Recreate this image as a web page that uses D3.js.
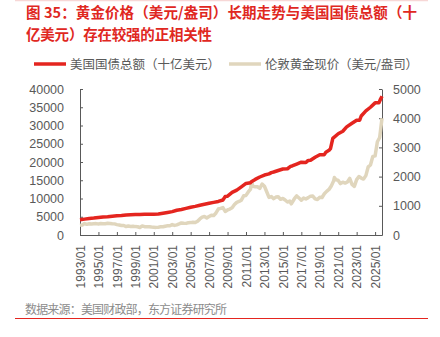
<!DOCTYPE html>
<html><head><meta charset="utf-8">
<script src="https://cdn.jsdelivr.net/npm/d3@7/dist/d3.min.js"></script>
<style>
body{margin:0;background:#fff;}
svg{display:block;font-family:"Liberation Sans","Noto Sans CJK SC",sans-serif;}
</style></head>
<body><svg id="c" width="440" height="337"></svg>
<script>
const titleLines = ["图 35：黄金价格（美元/盎司）长期走势与美国国债总额（十", "亿美元）存在较强的正相关性"];
const legendNames = ["美国国债总额（十亿美元）", "伦敦黄金现价（美元/盎司）"];
const sourceText = "数据来源：美国财政部，东方证券研究所";
const xTickLabels = ["1993/01","1995/01","1997/01","1999/01","2001/01","2003/01","2005/01","2007/01","2009/01","2011/01","2013/01","2015/01","2017/01","2019/01","2021/01","2023/01","2025/01"];
const leftTicks = [0,5000,10000,15000,20000,25000,30000,35000,40000];
const rightTicks = [0,1000,2000,3000,4000,5000];

const debtDates = ["1993/01","1993/07","1994/01","1994/07","1995/01","1995/07","1996/01","1996/07","1997/01","1997/07","1998/01","1998/07","1999/01","1999/07","2000/01","2000/07","2001/01","2001/07","2002/01","2002/07","2003/01","2003/07","2004/01","2004/07","2005/01","2005/07","2006/01","2006/07","2007/01","2007/07","2008/01","2008/07","2008/10","2009/01","2009/07","2010/01","2010/07","2011/01","2011/07","2011/08","2012/01","2012/07","2013/01","2013/07","2013/10","2014/01","2014/07","2015/01","2015/07","2015/11","2016/01","2016/07","2017/01","2017/07","2017/10","2018/01","2018/07","2019/01","2019/07","2019/09","2020/01","2020/03","2020/06","2021/01","2021/07","2021/12","2022/07","2023/01","2023/05","2023/07","2024/01","2024/07","2025/01","2025/06","2025/08","2025/10"];
const debtValues = [4170,4350,4540,4650,4800,4960,4990,5160,5300,5370,5490,5550,5610,5640,5710,5660,5700,5730,5940,6160,6400,6780,7000,7300,7610,7850,8170,8420,8680,8930,9190,9590,10530,10630,11670,12310,13200,14130,14340,14600,15230,15890,16430,16740,17080,17260,17680,18080,18150,18800,18920,19430,19940,19850,20440,20490,21300,21980,22020,22700,23200,23690,26480,27750,28430,29620,30600,31420,31460,32600,34000,35000,36200,36200,37200,38000];

const goldDates = ["1993/01","1993/04","1993/07","1993/10","1994/01","1994/04","1994/07","1994/10","1995/01","1995/04","1995/07","1995/10","1996/01","1996/04","1996/07","1996/10","1997/01","1997/04","1997/07","1997/10","1998/01","1998/04","1998/07","1998/10","1999/01","1999/04","1999/07","1999/10","2000/01","2000/04","2000/07","2000/10","2001/01","2001/04","2001/07","2001/10","2002/01","2002/04","2002/07","2002/10","2003/01","2003/04","2003/07","2003/10","2004/01","2004/04","2004/07","2004/10","2005/01","2005/04","2005/07","2005/10","2006/01","2006/04","2006/07","2006/10","2007/01","2007/04","2007/07","2007/10","2008/01","2008/04","2008/07","2008/10","2009/01","2009/04","2009/07","2009/10","2010/01","2010/04","2010/07","2010/10","2011/01","2011/04","2011/07","2011/08","2011/09","2011/10","2012/01","2012/04","2012/07","2012/10","2013/01","2013/04","2013/07","2013/10","2014/01","2014/04","2014/07","2014/10","2015/01","2015/04","2015/07","2015/10","2015/12","2016/04","2016/07","2016/10","2017/01","2017/04","2017/07","2017/10","2018/01","2018/04","2018/07","2018/10","2019/01","2019/04","2019/07","2019/10","2020/01","2020/04","2020/07","2020/08","2020/10","2021/01","2021/04","2021/07","2021/10","2022/01","2022/04","2022/07","2022/10","2023/01","2023/04","2023/07","2023/10","2024/01","2024/04","2024/07","2024/10","2025/01","2025/04","2025/07","2025/10"];
const goldValues = [329,342,392,365,387,377,385,390,379,391,387,383,400,393,383,381,355,344,324,325,289,308,293,296,287,282,256,311,285,280,282,271,266,261,268,279,282,302,314,317,357,329,347,379,414,404,398,420,424,435,425,470,550,610,633,586,632,679,665,754,889,911,939,807,858,890,934,1043,1117,1148,1193,1342,1356,1474,1572,1757,1772,1665,1656,1651,1594,1747,1670,1480,1286,1316,1244,1299,1311,1222,1251,1198,1131,1159,1068,1242,1337,1266,1192,1266,1236,1280,1331,1335,1239,1215,1291,1285,1413,1495,1560,1680,1847,1968,1900,1867,1760,1807,1777,1817,1937,1732,1665,1898,2000,1950,1916,2034,2331,2398,2690,2709,3193,3340,4000];

const RED = "#e4251f", GOLD = "#e0d6bd", TXT = "#595959";
const svg = d3.select("#c");
const parse = d3.timeParse("%Y/%m");
const CJK = "'Noto Sans CJK SC',sans-serif";

// top faint rule
svg.append("line").attr("x1",15).attr("x2",428).attr("y1",0.5).attr("y2",0.5).attr("stroke","#f7d7d6").attr("stroke-width",1.5);

// title
const titleWidths = [391, 186];
svg.selectAll("text.title").data(titleLines).join("text")
  .attr("class","title")
  .attr("x",26).attr("y",(d,i)=>18+i*21.5)
  .attr("fill","#e0281f").attr("font-weight","bold").attr("font-size",14.5)
  .attr("font-family",CJK)
  .attr("textLength",(d,i)=>titleWidths[i]).attr("lengthAdjust","spacing")
  .text(d=>d);

// legend
const lg = svg.append("g").attr("font-family",CJK);
[[34,RED,70,150],[229,GOLD,265,153]].forEach((p,i)=>{
  lg.append("line").attr("x1",p[0]).attr("x2",p[0]+32).attr("y1",64).attr("y2",64)
    .attr("stroke",p[1]).attr("stroke-width",3.5);
  lg.append("text").attr("x",p[2]).attr("y",68.5).attr("font-size",12.5).attr("fill",TXT)
    .attr("textLength",p[3]).attr("lengthAdjust","spacing").text(legendNames[i]);
});

// scales
const x = d3.scaleTime().domain([parse("1993/01"), parse("2025/10")]).range([80, 382]);
const yL = d3.scaleLinear().domain([0,40000]).range([235,89]);
const yR = d3.scaleLinear().domain([0,5000]).range([235,89]);

// axes
const xAxis = d3.axisBottom(x).tickValues(xTickLabels.map(parse)).tickSizeInner(-3).tickSizeOuter(0).tickFormat(d3.timeFormat("%Y/%m"));
const gx = svg.append("g").attr("transform","translate(0,235)").call(xAxis);
gx.select(".domain").attr("stroke",TXT);
gx.selectAll(".tick line").attr("stroke",TXT);
gx.selectAll("text").attr("font-size",12).attr("fill",TXT)
  .attr("transform","rotate(-90)").attr("text-anchor","end").attr("dx","-10").attr("dy","0.35em").attr("y",0).attr("x",0)
  .attr("font-family","'Liberation Sans',sans-serif");

const gl = svg.append("g").attr("transform","translate(80,0)").call(d3.axisLeft(yL).tickValues(leftTicks).tickSizeInner(-3).tickSizeOuter(0).tickPadding(16).tickFormat(d3.format("d")));
gl.select(".domain").attr("stroke",TXT);
gl.selectAll(".tick line").attr("stroke",TXT);
gl.selectAll("text").attr("font-size",12.5).attr("fill",TXT).attr("font-family","'Liberation Sans',sans-serif");

const gr = svg.append("g").attr("transform","translate(382,0)").call(d3.axisRight(yR).tickValues(rightTicks).tickSizeInner(-3).tickSizeOuter(0).tickPadding(11).tickFormat(d3.format("d")));
gr.select(".domain").attr("stroke",TXT);
gr.selectAll(".tick line").attr("stroke",TXT);
gr.selectAll("text").attr("font-size",12.5).attr("fill",TXT).attr("font-family","'Liberation Sans',sans-serif");

// lines
const goldData = goldDates.map((d,i)=>({d:parse(d),v:goldValues[i]}));
const debtData = debtDates.map((d,i)=>({d:parse(d),v:debtValues[i]}));
svg.append("path").datum(goldData).attr("fill","none").attr("stroke",GOLD).attr("stroke-width",3.5).attr("stroke-linejoin","round")
  .attr("d",d3.line().x(p=>x(p.d)).y(p=>yR(p.v)));
svg.append("path").datum(debtData).attr("fill","none").attr("stroke",RED).attr("stroke-width",3.5).attr("stroke-linejoin","round")
  .attr("d",d3.line().x(p=>x(p.d)).y(p=>yL(p.v)));

// source
svg.append("text").attr("x",25).attr("y",314).attr("font-size",12).attr("fill","#8c8c8c")
  .attr("font-family",CJK).attr("textLength",202).attr("lengthAdjust","spacing").text(sourceText);
svg.append("line").attr("x1",15).attr("x2",428).attr("y1",318.5).attr("y2",318.5).attr("stroke",RED).attr("stroke-width",1);
</script></body></html>
